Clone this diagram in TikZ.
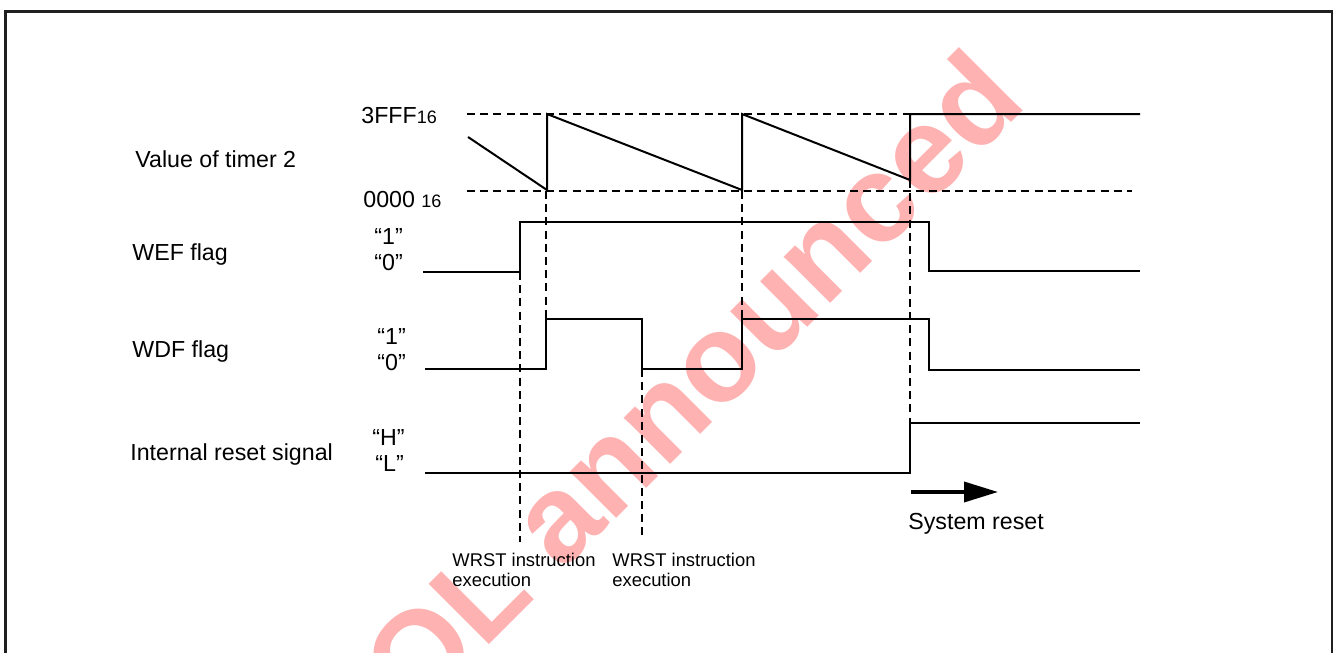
\documentclass[tikz,border=0pt]{standalone}
\usepackage{fontspec}
\setmainfont{Liberation Sans}
\usetikzlibrary{arrows.meta}
\newcommand{\WdtGuide}[3]{\draw[guide] (#1,#2) -- (#1,#3);}
\newcommand{\WdtSize}{\fontsize{11.6}{13}\selectfont}
\newcommand{\WdtSub}[1]{{\fontsize{9}{9}\selectfont #1}}

\begin{document}
\begin{tikzpicture}[x=0.5pt,y=-0.5pt,
		wave/.style={line width=1pt,line join=miter},
		guide/.style={line width=0.7pt,dash pattern=on 4pt off 2.6pt},
		lbl/.style={inner sep=0pt,font=\WdtSize,anchor=base west},
		note/.style={inner sep=0pt,font=\fontsize{9.2}{10}\selectfont,align=left,anchor=north west}]
		\useasboundingbox (0,0) rectangle (1335,653);
		% Watermark
		\node[rotate=45,text=red!30,font=\fontsize{62}{62}\selectfont\bfseries] (mark) at (662,410) {EOL announced};
		% Frame
		\draw[line width=1.35pt,black!88] (5.3,700) -- (5.3,11.3) -- (1332,11.3) -- (1332,700);
		% Timer levels
		\draw[guide] (467,114) -- (910,114);
		\draw[guide] (467,191) -- (1132,191);
		% Waveforms
		\draw[wave] (468,137) -- (547,190);
		\draw[wave] (547,191) -- (547,114) -- (742,190) -- (742,114) -- (910,180) -- (910,114) -- (1140,114);
		\draw[wave] (423,272) -- (520,272) -- (520,222) -- (929,222) -- (929,271) -- (1140,271);
		\draw[wave] (425,369) -- (546,369) -- (546,319) -- (642,319) -- (642,369) -- (742,369) -- (742,319) -- (929,319) -- (929,370) -- (1140,370);
		\draw[wave] (425,473) -- (910,473) -- (910,423) -- (1140,423);
		% Guides
		\foreach \gx/\gtop/\gbot in {520/272/542, 546/191/319, 642/369/535, 742/191/319, 910/180/423}{
			\WdtGuide{\gx}{\gtop}{\gbot}
		}
		% Signal names
		\node[lbl] (timer) at (135,167) {Value of timer 2};
		\node[lbl] (wef) at (132,260) {WEF flag};
		\node[lbl] (wdf) at (132,357) {WDF flag};
		\node[lbl] (reset) at (130,460) {Internal reset signal};
		% Levels
		\node[lbl] (top) at (361,123) {3FFF\WdtSub{16}};
		\node[lbl] (bottom) at (363,207) {0000 \WdtSub{16}};
		\node[lbl] (wefhi) at (374,244) {“1”};
		\node[lbl] (weflo) at (374,270) {“0”};
		\node[lbl] (wdfhi) at (377,344) {“1”};
		\node[lbl] (wdflo) at (377,370) {“0”};
		\node[lbl] (rsthi) at (372,445) {“H”};
		\node[lbl] (rstlo) at (375,471) {“L”};
		% Notes
		\node[note] (wrsta) at (452,553) {WRST instruction\\execution};
		\node[note] (wrstb) at (612,553) {WRST instruction\\execution};
		\coordinate (sysa) at (911,492);
		\coordinate (sysb) at (998,492);
		\draw[line width=1.8pt,-{Triangle[length=17pt,width=10pt]}] (sysa) -- (sysb);
		\node[lbl] (sys) at (908,529) {System reset};
\end{tikzpicture}
\end{document}
